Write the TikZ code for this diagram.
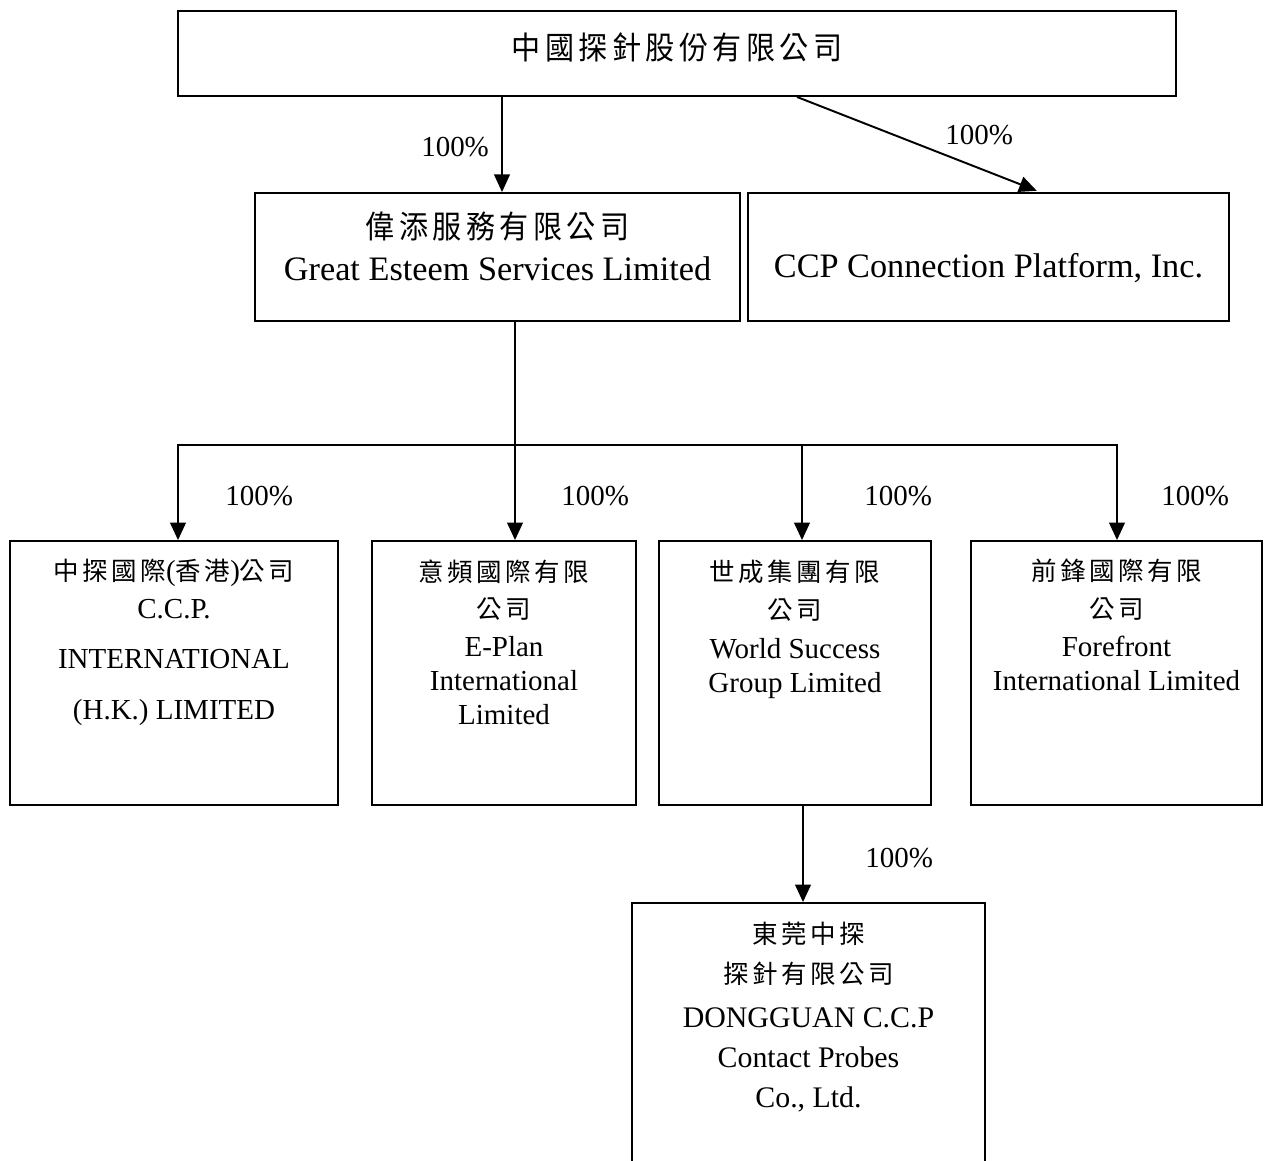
\documentclass[tikz,border=0pt]{standalone}
\usepackage{fontspec}
\setmainfont{Liberation Serif}
\newfontfamily\cjk[FakeStretch=0.92,LetterSpace=14]{Noto Sans CJK TC}
\newfontfamily\cjks[LetterSpace=14]{Noto Sans CJK TC}
\usetikzlibrary{arrows.meta,positioning}
\newcommand\zhbig[1]{{\cjk\fontsize{18}{24}\selectfont #1}}
\newcommand\zhsm[1]{{\cjks\fontsize{14.5}{20}\selectfont #1}}
\begin{document}
\begin{tikzpicture}[x=0.02cm,y=-0.02cm,
    box/.style={draw,line width=1.1pt,inner sep=0pt},
    arr/.style={-{Triangle[length=10pt,width=9pt]},line width=1.1pt},
    big/.style={font=\fontsize{19.5}{24}\selectfont,align=center,inner sep=0pt},
    sm/.style={font=\fontsize{16.5}{19.5}\selectfont,align=center,inner sep=0pt,anchor=north},
    pct/.style={font=\fontsize{16.5}{20}\selectfont,inner sep=0pt}]
  \clip (0,0) rectangle (1264,1160);
  \node[box,minimum width=19.96cm,minimum height=1.7cm] (top) at (677,53.5) {};
  \node[box,minimum width=9.7cm,minimum height=2.56cm] (ge) at (497.5,257) {};
  \node[box,minimum width=9.62cm,minimum height=2.56cm] (ccp) at (988.5,257) {};
  \node[box,minimum width=6.56cm,minimum height=5.28cm] (hk) at (174,673) {};
  \node[box,minimum width=5.28cm,minimum height=5.28cm] (ep) at (504,673) {};
  \node[box,minimum width=5.44cm,minimum height=5.28cm] (ws) at (795,673) {};
  \node[box,minimum width=5.82cm,minimum height=5.28cm] (ff) at (1116.5,673) {};
  \node[box,minimum width=7.06cm,minimum height=5.94cm] (dg) at (808.5,1051.5) {};

  \node[big] (top-t) at ([yshift=0.13cm]top.center) {\zhbig{中國探針股份有限公司}};
  \node[big,anchor=north] (ge-t) at ([yshift=-0.38cm]ge.north)
    {\zhbig{偉添服務有限公司}\\Great Esteem Services Limited};
  \node[big] (ccp-t) at ([yshift=-0.22cm]ccp.center) {CCP Connection Platform, Inc.};
  \node[sm] (hk-t) at ([yshift=-0.38cm]hk.north)
    {\zhsm{中探國際}(\zhsm{香港})\zhsm{公司}\\[1.7pt]C.C.P.\\[9pt]INTERNATIONAL\\[9.5pt](H.K.) LIMITED};
  \node[sm] (ep-t) at ([yshift=-0.38cm]ep.north)
    {\zhsm{意頻國際有限}\\[1.7pt]\zhsm{公司}\\[2pt]E-Plan\\International\\Limited};
  \node[sm] (ws-t) at ([yshift=-0.4cm]ws.north)
    {\zhsm{世成集團有限}\\[1.7pt]\zhsm{公司}\\[3pt]World Success\\Group Limited};
  \node[sm] (ff-t) at ([yshift=-0.38cm]ff.north)
    {\zhsm{前鋒國際有限}\\[1.7pt]\zhsm{公司}\\[2pt]Forefront\\International Limited};
  \node[sm,font=\fontsize{17}{22.8}\selectfont] (dg-t) at ([yshift=-0.4cm]dg.north)
    {\zhsm{東莞中探}\\\zhsm{探針有限公司}\\[2pt]DONGGUAN C.C.P\\Contact Probes\\Co., Ltd.};

  \coordinate (t1) at (502,0);
  \coordinate (t2) at (797,0);
  \coordinate (c1) at (1040,0);
  \coordinate (trunk) at (515,445);
  \coordinate (b1) at (178,445);
  \coordinate (b3) at (802,445);
  \coordinate (b4) at (1117,445);
  \coordinate (w1) at (803,0);

  \draw[arr,line width=0.7pt] (top.south -| t1) -- node[pct,midway,left=0.25cm,yshift=-0.06cm] {100\%} (ge.north -| t1);
  \draw[arr,shorten >=2pt] (top.south -| t2) -- node[pct,pos=0.75,above=0.45cm] {100\%} (ccp.north -| c1);
  \draw[line width=1.1pt] (ge.south -| trunk) -- (trunk);
  \draw[line width=1.1pt,line cap=rect] (b1) -- (b4);
  \draw[arr] (b1) -- node[pct,midway,right=0.93cm,yshift=-0.08cm] {100\%} (b1 |- hk.north);
  \draw[arr] (trunk) -- node[pct,midway,right=0.91cm,yshift=-0.08cm] {100\%} (trunk |- ep.north);
  \draw[arr] (b3) -- node[pct,midway,right=1.23cm,yshift=-0.08cm] {100\%} (b3 |- ws.north);
  \draw[arr] (b4) -- node[pct,midway,right=0.87cm,yshift=-0.08cm] {100\%} (b4 |- ff.north);
  \draw[arr] (ws.south -| w1) -- node[pct,midway,right=1.23cm,yshift=-0.08cm] {100\%} (dg.north -| w1);
\end{tikzpicture}
\end{document}
